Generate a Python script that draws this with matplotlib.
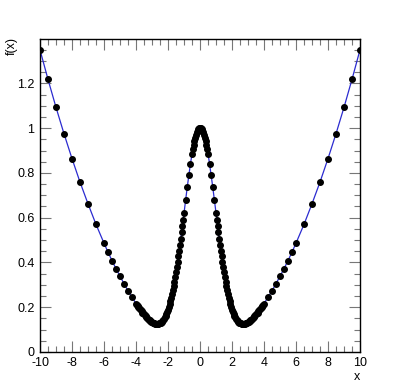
import matplotlib as mpl
mpl.use('Agg')
import matplotlib.pyplot as plt
import matplotlib.ticker as tick

# sampled points, x >= 0 (curve is symmetric around x = 0)
x_pos = [0.0, 0.05, 0.1, 0.15, 0.2, 0.25, 0.3, 0.35, 0.4, 0.45, 0.5, 0.6, 0.7, 0.8, 0.9, 1.0,
         1.05, 1.1, 1.15, 1.2, 1.25, 1.3, 1.35, 1.4, 1.45, 1.5, 1.55, 1.6, 1.65, 1.7, 1.75,
         1.8, 1.85, 1.9, 1.95, 2.0, 2.05, 2.1, 2.15, 2.2, 2.25, 2.3, 2.35, 2.4, 2.45, 2.5,
         2.55, 2.6, 2.65, 2.7, 2.75, 2.8, 2.85, 2.9, 2.95, 3.0, 3.05, 3.1, 3.15, 3.2, 3.25,
         3.3, 3.35, 3.4, 3.45, 3.5, 3.55, 3.6, 3.65, 3.7, 3.75, 3.8, 3.85, 3.9, 3.95, 4.0,
         4.25, 4.5, 4.75, 5, 5.25, 5.5, 5.75, 6, 6.5, 7, 7.5, 8, 8.5, 9, 9.5, 10]
y_pos = [1.0, 0.999, 0.995, 0.989, 0.981, 0.97, 0.957, 0.942, 0.925, 0.906, 0.886, 0.84, 0.789,
         0.735, 0.678, 0.62, 0.591, 0.562, 0.534, 0.506, 0.479, 0.452, 0.427, 0.402, 0.378,
         0.355, 0.333, 0.313, 0.293, 0.275, 0.258, 0.242, 0.227, 0.213, 0.201, 0.189, 0.179,
         0.17, 0.162, 0.154, 0.148, 0.142, 0.138, 0.134, 0.131, 0.128, 0.127, 0.125, 0.125,
         0.125, 0.125, 0.126, 0.127, 0.128, 0.13, 0.133, 0.135, 0.138, 0.141, 0.144, 0.148,
         0.151, 0.155, 0.159, 0.163, 0.168, 0.172, 0.176, 0.181, 0.186, 0.191, 0.196, 0.201,
         0.206, 0.211, 0.216, 0.244, 0.273, 0.305, 0.338, 0.372, 0.408, 0.446, 0.486, 0.57,
         0.662, 0.759, 0.864, 0.975, 1.093, 1.218, 1.35]

xs = [-v for v in x_pos[:0:-1]] + x_pos
ys = y_pos[:0:-1] + y_pos

plt.rcParams['font.family'] = ['Liberation Sans', 'DejaVu Sans']

fig = plt.figure(figsize=(4.0, 3.91), dpi=100)
ax = fig.add_axes([0.1, 0.1, 0.8, 0.8])

ax.plot(xs, ys, color='#2b2bd0', linewidth=0.9, zorder=2)
ax.plot(xs, ys, linestyle='none', marker='o', markersize=4.0, color='black', zorder=3)

ax.set_xlim(-10, 10)
ax.set_ylim(0, 1.398)

ax.xaxis.set_major_locator(tick.MultipleLocator(2))
ax.xaxis.set_minor_locator(tick.MultipleLocator(0.5))
ax.yaxis.set_major_locator(tick.MultipleLocator(0.2))
ax.yaxis.set_minor_locator(tick.MultipleLocator(0.05))
ax.xaxis.set_major_formatter(tick.FuncFormatter(lambda v, p: '%g' % v))
ax.yaxis.set_major_formatter(tick.FuncFormatter(lambda v, p: '%g' % round(v, 2)))

ax.tick_params(which='major', direction='in', top=True, right=True, length=8, width=0.8,
               color='#777777', labelsize=9)
ax.tick_params(which='minor', direction='in', top=True, right=True, length=4, width=0.8,
               color='#777777')
ax.tick_params(axis='x', pad=4)
ax.tick_params(axis='y', pad=4)
for s in ax.spines.values():
    s.set_linewidth(1.0)

ax.set_xlabel('x', fontsize=9, loc='right', labelpad=1)
fig.text(12 / 400, 1 - 37 / 391, 'f(x)', rotation=90, fontsize=9, ha='center', va='top')

plt.savefig('out.png', dpi=100)
